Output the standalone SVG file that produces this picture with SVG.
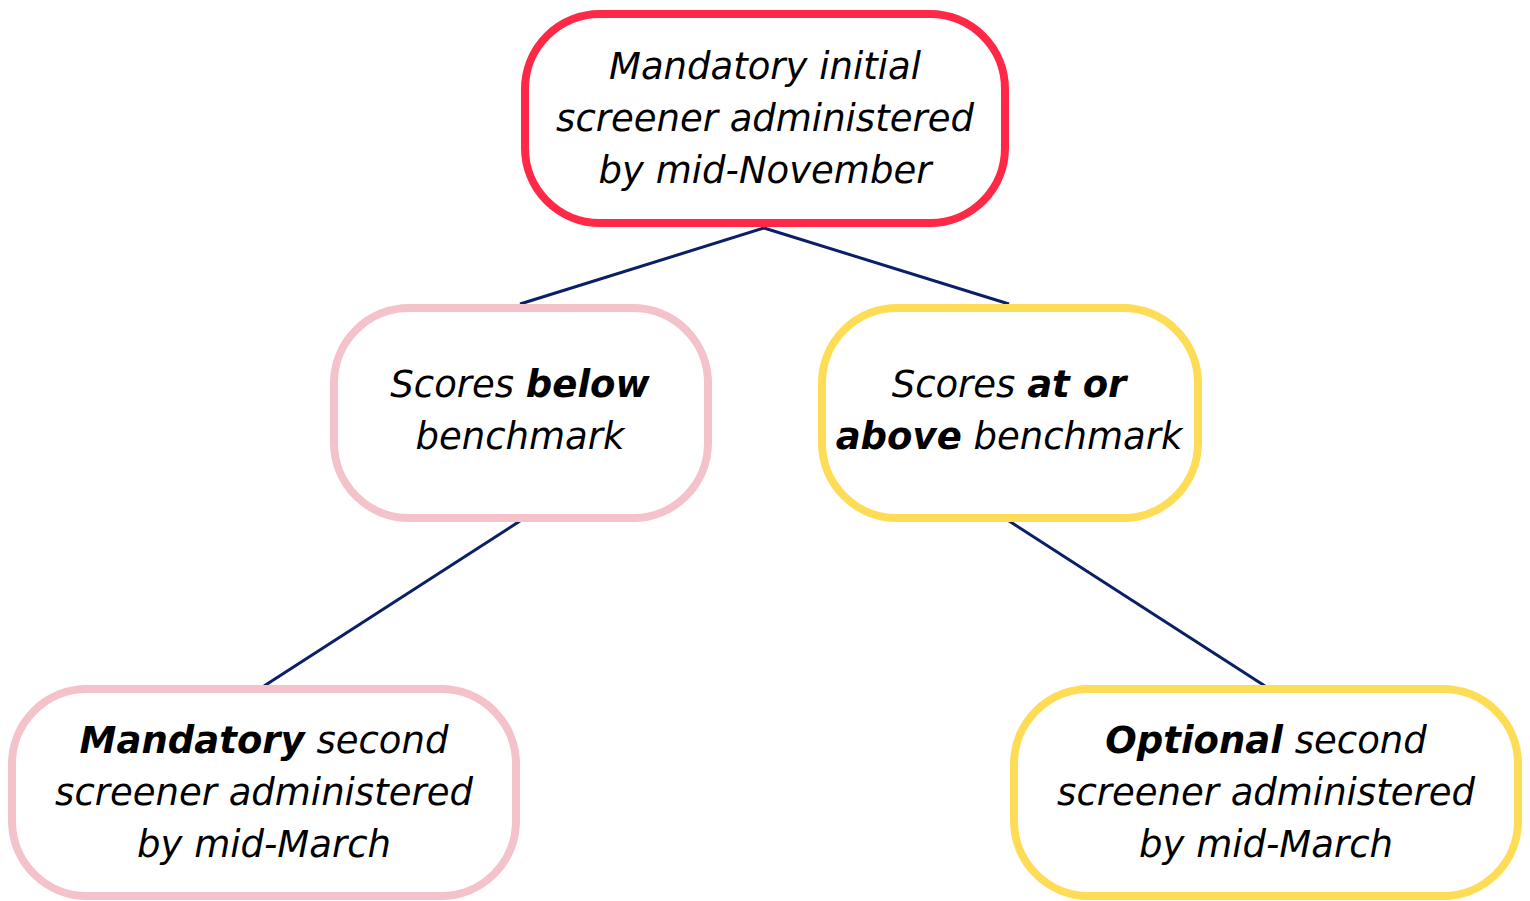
<svg xmlns="http://www.w3.org/2000/svg" width="1530" height="901" viewBox="0 0 1530 901">
<style>
.box{fill:#fff;stroke-width:8}
.red{stroke:#FF2846}
.pink{stroke:#F4C2CB}
.yellow{stroke:#FFDC55}
.conn line{stroke:#0B1F66;stroke-width:3;fill:none}
text{font-family:"DejaVu Sans","Liberation Sans",sans-serif;font-style:italic;font-size:37px;fill:#000;text-anchor:middle}
.b{font-weight:bold}
</style>
<rect width="1530" height="901" fill="#fff"/>
<g id="connectors" class="conn">
<line x1="764" y1="228" x2="520" y2="304"/>
<line x1="764" y1="228" x2="1009" y2="304"/>
<line x1="520" y1="521" x2="264" y2="686"/>
<line x1="1009" y1="521" x2="1265" y2="686"/>
</g>
<g id="node-initial">
<rect class="box red" x="525" y="14" width="480" height="209" rx="75"/>
<text x="765" y="79">Mandatory initial</text>
<text x="765" y="131">screener administered</text>
<text x="765" y="183">by mid-November</text>
</g>
<g id="node-below">
<rect class="box pink" x="334" y="308" width="374" height="210" rx="75"/>
<text x="520" y="397">Scores <tspan class="b">below</tspan></text>
<text x="520" y="449">benchmark</text>
</g>
<g id="node-above">
<rect class="box yellow" x="822" y="308" width="376" height="210" rx="75"/>
<text x="1009" y="397">Scores <tspan class="b">at or</tspan></text>
<text x="1009" y="449"><tspan class="b">above</tspan> benchmark</text>
</g>
<g id="node-mandatory-second">
<rect class="box pink" x="12" y="689" width="504" height="207" rx="75"/>
<text x="264" y="753"><tspan class="b">Mandatory</tspan> second</text>
<text x="264" y="805">screener administered</text>
<text x="264" y="857">by mid-March</text>
</g>
<g id="node-optional-second">
<rect class="box yellow" x="1014" y="689" width="504" height="207" rx="75"/>
<text x="1266" y="753"><tspan class="b">Optional</tspan> second</text>
<text x="1266" y="805">screener administered</text>
<text x="1266" y="857">by mid-March</text>
</g>
</svg>
